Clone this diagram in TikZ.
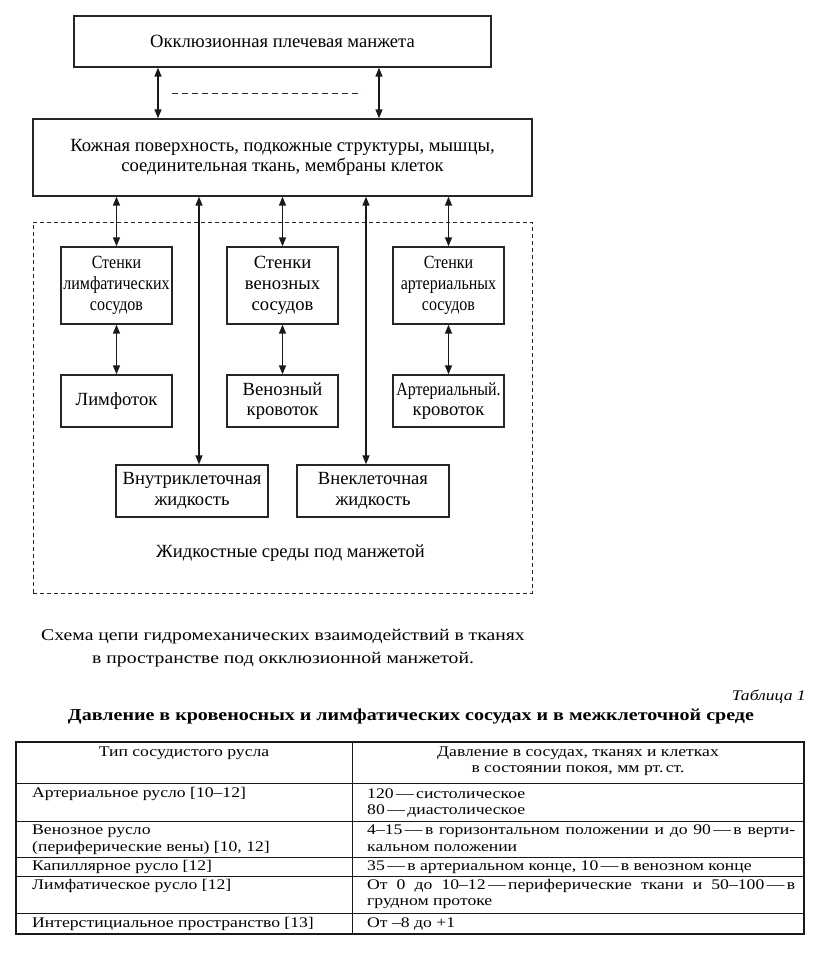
\documentclass[tikz,border=0pt]{standalone}
\usepackage{fontspec}
\setmainfont{Liberation Serif}
\newfontfamily\tabfont[FakeStretch=1.2]{Liberation Serif}
\newfontfamily\narrowfont[FakeStretch=0.86]{Liberation Serif}
\usetikzlibrary{arrows.meta}
\begin{document}
\begin{tikzpicture}[x=1pt,y=-1pt,
  box/.style={draw=black!85, line width=1.3pt, inner sep=0pt, align=center,
    font=\fontsize{18.6}{20.7}\selectfont},
  arr/.style={{Triangle[length=9pt,width=7pt]}-{Triangle[length=9pt,width=7pt]}, line width=1.4pt, draw=black!90},
  dline/.style={draw=black!85, line width=1pt, dash pattern=on 6pt off 4pt},
  dbox/.style={draw=black!85, line width=1pt, dash pattern=on 4pt off 3pt, inner sep=0pt},
  ttext/.style={inner sep=0pt, font=\tabfont\fontsize{14.7}{17}\selectfont},
  tline/.style={line width=0.9pt, draw=black!90},
  touter/.style={line width=1.4pt, draw=black!90}
]
\useasboundingbox (0,0) rectangle (828,970);

% ---------- diagram ----------
\node[box, minimum width=417pt, minimum height=51pt] (cuff) at (282.5,41.5) {Окклюзионная плечевая манжета};
\node[box, minimum width=499pt, minimum height=77pt] (skin) at (282.5,157.5)
  {Кожная поверхность, подкожные структуры, мышцы,\\соединительная ткань, мембраны клеток};

\coordinate (ta) at (158,93);
\coordinate (tb) at (379,93);
\coordinate (d1) at (172,93);
\coordinate (d2) at (362,93);
\draw[arr] (cuff.south -| ta) -- (skin.north -| ta);
\draw[arr] (cuff.south -| tb) -- (skin.north -| tb);
\draw[dline] (d1) -- (d2);

\node[dbox, minimum width=499pt, minimum height=371pt] (fluid) at (282.5,407.5) {};

\node[box, minimum width=111pt, minimum height=77pt] (wl) at (116.5,285.5)
  {\narrowfont Стенки\\\narrowfont лимфатических\\\narrowfont сосудов};
\node[box, minimum width=111pt, minimum height=77pt] (wv) at (282.5,285.5)
  {Стенки\\венозных\\сосудов};
\node[box, minimum width=111pt, minimum height=77pt] (wa) at (448.5,285.5)
  {\narrowfont Стенки\\\narrowfont артериальных\\\narrowfont сосудов};

\node[box, minimum width=111pt, minimum height=52pt] (fl) at (116.5,401) {Лимфоток};
\node[box, minimum width=111pt, minimum height=52pt] (fv) at (282.5,401) {Венозный\\кровоток};
\node[box, minimum width=111pt, minimum height=52pt] (fa) at (448.5,401) {\narrowfont Артериальный.\\кровоток};

\node[box, minimum width=152pt, minimum height=52pt] (ic) at (192,491) {Внутриклеточная\\жидкость};
\node[box, minimum width=152pt, minimum height=52pt] (ec) at (373,491) {Внеклеточная\\жидкость};

\node[inner sep=0pt, font=\fontsize{18.6}{20.7}\selectfont] (flabel) at (290.5,553) {Жидкостные среды под манжетой};

\coordinate (la) at (199,330);
\coordinate (lb) at (366,330);
\draw[arr] (skin.south -| wl.north) -- (wl.north);
\draw[arr] (skin.south -| wv.north) -- (wv.north);
\draw[arr] (skin.south -| wa.north) -- (wa.north);
\draw[arr] (wl.south) -- (fl.north);
\draw[arr] (wv.south) -- (fv.north);
\draw[arr] (wa.south) -- (fa.north);
\draw[arr] (skin.south -| la) -- (ic.north -| la);
\draw[arr] (skin.south -| lb) -- (ec.north -| lb);

% ---------- caption ----------
\node[anchor=west, inner sep=0pt, font=\tabfont\fontsize{16.4}{19}\selectfont] (cap1) at (41,637)
  {Схема цепи гидромеханических взаимодействий в тканях};
\node[anchor=west, inner sep=0pt, font=\tabfont\fontsize{16.4}{19}\selectfont] (cap2) at (92,660)
  {в пространстве под окклюзионной манжетой.};

\node[anchor=east, inner sep=0pt, font=\tabfont\itshape\fontsize{14.7}{17}\selectfont] (tabno) at (806,697) {Таблица 1};
\node[inner sep=0pt, font=\tabfont\bfseries\fontsize{16.7}{19}\selectfont] (tabtitle) at (411,716)
  {Давление в кровеносных и лимфатических сосудах и в межклеточной среде};

% ---------- table ----------
\draw[tline] (16,783) -- (804,783);
\draw[tline] (16,821) -- (804,821);
\draw[tline] (16,857) -- (804,857);
\draw[tline] (16,876) -- (804,876);
\draw[tline] (16,913) -- (804,913);
\draw[tline] (352,742) -- (352,934);
\draw[touter] (16,742) rectangle (804,934);

\node[ttext] (h1) at (184,753) {Тип сосудистого русла};
\node[ttext] (h2a) at (578,753) {Давление в сосудах, тканях и клетках};
\node[ttext] (h2b) at (578,771) {в состоянии покоя, мм рт.\,ст.};

\node[ttext, anchor=west] (r1a) at (32,794) {Артериальное русло [10–12]};
\node[ttext, anchor=west] (r1b) at (367,794) {120\,—\,систолическое};
\node[ttext, anchor=west] (r1c) at (367,811) {80\,—\,диастолическое};

\node[ttext, anchor=west] (r2a) at (32,831) {Венозное русло};
\node[ttext, anchor=west] (r2b) at (32,848) {(периферические вены) [10, 12]};
\node[ttext, anchor=west] (r2c) at (367,831) {\makebox[428pt][s]{4–15\,—\,в горизонтальном положении и до 90\,—\,в верти-}};
\node[ttext, anchor=west] (r2d) at (367,848) {кальном положении};

\node[ttext, anchor=west] (r3a) at (32,867) {Капиллярное русло [12]};
\node[ttext, anchor=west] (r3b) at (367,867) {35\,—\,в артериальном конце, 10\,—\,в венозном конце};

\node[ttext, anchor=west] (r4a) at (32,886) {Лимфатическое русло [12]};
\node[ttext, anchor=west] (r4b) at (367,886) {\makebox[428pt][s]{От 0 до 10–12\,—\,периферические ткани и 50–100\,—\,в}};
\node[ttext, anchor=west] (r4c) at (367,904) {грудном протоке};

\node[ttext, anchor=west] (r5a) at (32,924) {Интерстициальное пространство [13]};
\node[ttext, anchor=west] (r5b) at (367,924) {От –8 до +1};
\end{tikzpicture}
\end{document}
